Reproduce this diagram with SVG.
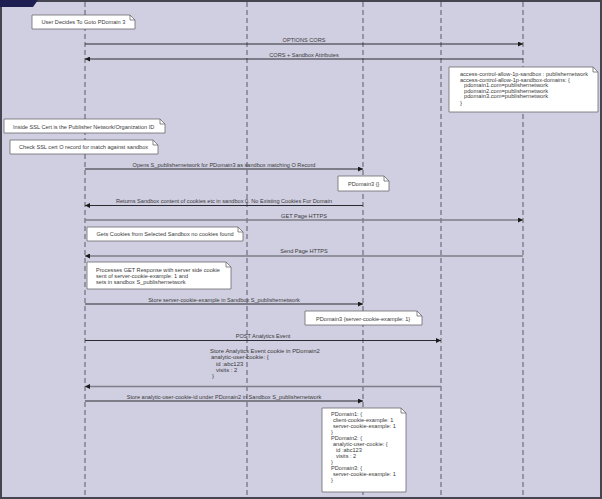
<svg xmlns="http://www.w3.org/2000/svg" width="602" height="499" viewBox="0 0 602 499">
<style>
.bg{fill:#d0cee1}
.frame{fill:none;stroke:#45454f;stroke-width:2}
.life{stroke:#5a5a66;stroke-width:1;stroke-dasharray:5 3}
.msg{stroke:#2a2a30;stroke-width:1;fill:none}
.msg2{stroke:#7e7e88;stroke-width:1.7;fill:none}
.note{fill:#ffffff;stroke:#6b6b6b;stroke-width:0.8}
.fold{fill:none;stroke:#6b6b6b;stroke-width:0.8}
text{font-family:"Liberation Sans",Arial,sans-serif;font-size:5.6px;fill:#3a3a3a}
.c{text-anchor:middle}
.big{font-size:6px}
</style>
<defs>
<marker id="ah" viewBox="0 0 8 8" refX="8" refY="4" markerWidth="6" markerHeight="5" markerUnits="userSpaceOnUse" orient="auto">
<path d="M0,0 L8,4 L0,8 Z" fill="#1a1a1a"/>
</marker>
</defs>
<rect class="bg" x="0" y="0" width="602" height="499"/>
<rect class="frame" x="1" y="1" width="600" height="497"/>
<path d="M0,0 L38,0 L33,7 L0,7 Z" fill="#1e1e52"/>
<g id="lifelines">
<line class="life" x1="85" y1="2" x2="85" y2="497"/>
<line class="life" x1="247" y1="2" x2="247" y2="497"/>
<line class="life" x1="363" y1="2" x2="363" y2="497"/>
<line class="life" x1="441" y1="2" x2="441" y2="497"/>
<line class="life" x1="523" y1="2" x2="523" y2="497"/>
</g>
<g id="connectors">
<line class="msg" x1="85" y1="44" x2="523" y2="44" marker-end="url(#ah)"/>
<text class="c" x="304" y="41.5">OPTIONS CORS</text>
<line class="msg" x1="523" y1="59" x2="85" y2="59" marker-end="url(#ah)"/>
<text class="c" x="304" y="56.5">CORS + Sandbox Attributes</text>
<line class="msg" x1="85" y1="169" x2="363" y2="169" marker-end="url(#ah)"/>
<text class="c" x="224" y="167">Opens S_publishernetwork for PDomain3 as sandbox matching O Record</text>
<line class="msg" x1="363" y1="205.5" x2="85" y2="205.5" marker-end="url(#ah)"/>
<text class="c" x="224" y="202.7">Returns Sandbox content of cookies etc in sandbox 0. No Existing Cookies For Domain</text>
<line class="msg2" x1="85" y1="220" x2="523" y2="220" marker-end="url(#ah)"/>
<text class="c" x="304" y="217.7">GET Page HTTPS</text>
<line class="msg2" x1="523" y1="256" x2="85" y2="256" marker-end="url(#ah)"/>
<text class="c" x="304" y="253">Send Page HTTPS</text>
<line class="msg" x1="85" y1="304" x2="363" y2="304" marker-end="url(#ah)"/>
<text class="c" x="224" y="302">Store server-cookie-example in Sandbox S_publishernetwork</text>
<line class="msg" x1="85" y1="340.5" x2="441" y2="340.5" marker-end="url(#ah)"/>
<text class="c" x="263" y="337.7">POST Analytics Event</text>
<line class="msg2" x1="441" y1="386.5" x2="85" y2="386.5" marker-end="url(#ah)"/>
<text x="210" y="353" style="font-size:5.9px">Store Analytics Event cookie in PDomain2</text>
<text x="211" y="359" style="font-size:5.9px"> analytic-user-cookie: {</text>
<text x="216" y="365.5" style="font-size:5.9px">id :abc123</text>
<text x="216" y="371.5" style="font-size:5.9px">visits : 2</text>
<text x="212" y="377.5" style="font-size:5.9px">}</text>
<line class="msg" x1="85" y1="401" x2="363" y2="401" marker-end="url(#ah)"/>
<text class="c" x="224" y="399.3">Store analytic-user-cookie-id under PDomain2 in Sandbox S_publishernetwork</text>
</g>
<g id="note-user-decides">
<path class="note" d="M32,15 H130 L135,20 V29 H32 Z"/>
<path class="fold" d="M130,15 V20 H135"/>
<text x="41.5" y="24.3">User Decides To Goto PDomain 3</text>
</g>
<g id="note-access-control">
<path class="note" d="M449,67 H593 L598,72 V112 H449 Z"/>
<path class="fold" d="M593,67 V72 H598"/>
<text class="big" x="460" y="76.3" textLength="128" lengthAdjust="spacingAndGlyphs">access-control-allow-1p-sandbox : publishernetwork</text>
<text class="big" x="460" y="81.8" textLength="110" lengthAdjust="spacingAndGlyphs">access-control-allow-1p-sandbox-domains: {</text>
<text class="big" x="464" y="87.3" textLength="84" lengthAdjust="spacingAndGlyphs">pdomain1.com=publishernetwork</text>
<text class="big" x="464" y="92.8" textLength="84" lengthAdjust="spacingAndGlyphs">pdomain2.com=publishernetwork</text>
<text class="big" x="464" y="98.3" textLength="84" lengthAdjust="spacingAndGlyphs">pdomain3.com=publishernetwork</text>
<text class="big" x="460" y="104.5">}</text>
</g>
<g id="note-inside-ssl">
<path class="note" d="M4,119 H160 L165,124 V133 H4 Z"/>
<path class="fold" d="M160,119 V124 H165"/>
<text x="13" y="128.5">Inside SSL Cert is the Publisher Network/Organization ID</text>
</g>
<g id="note-check-ssl">
<path class="note" d="M10,140 H153 L158,145 V154 H10 Z"/>
<path class="fold" d="M153,140 V145 H158"/>
<text x="19" y="149">Check SSL cert O record for match against sandbox</text>
</g>
<g id="note-pdomain3-empty">
<path class="note" d="M338,176 H384 L389,181 V191 H338 Z"/>
<path class="fold" d="M384,176 V181 H389"/>
<text x="348" y="185.5">PDomain3 {}</text>
</g>
<g id="note-gets-cookies">
<path class="note" d="M87,227 H238 L243,232 V241 H87 Z"/>
<path class="fold" d="M238,227 V232 H243"/>
<text x="96.5" y="235.7">Gets Cookies from Selected Sandbox no cookies found</text>
</g>
<g id="note-processes">
<path class="note" d="M87,262 H226 L231,267 V289 H87 Z"/>
<path class="fold" d="M226,262 V267 H231"/>
<text x="96" y="272">Processes GET Response with server side cookie</text>
<text x="96" y="278">sent of server-cookie-example: 1 and</text>
<text x="96" y="284">sets in sandbox S_publishernetwork</text>
</g>
<g id="note-pdomain3-server">
<path class="note" d="M305,311 H417 L422,316 V325 H305 Z"/>
<path class="fold" d="M417,311 V316 H422"/>
<text x="316" y="320.5">PDomain3 {server-cookie-example: 1}</text>
</g>
<g id="note-summary">
<path class="note" d="M322,408 H401 L406,413 V492 H322 Z"/>
<path class="fold" d="M401,408 V413 H406"/>
<text x="331" y="416">PDomain1: {</text>
<text x="333" y="422">client-cookie-example: 1</text>
<text x="333" y="428">server-cookie-example: 1</text>
<text x="331" y="434">}</text>
<text x="331" y="440">PDomain2: {</text>
<text x="333" y="446">analytic-user-cookie: {</text>
<text x="336" y="452">id :abc123</text>
<text x="336" y="458">visits : 2</text>
<text x="331" y="464">}</text>
<text x="331" y="470">PDomain3: {</text>
<text x="333" y="476">server-cookie-example: 1</text>
<text x="331" y="482">}</text>
</g>
</svg>
